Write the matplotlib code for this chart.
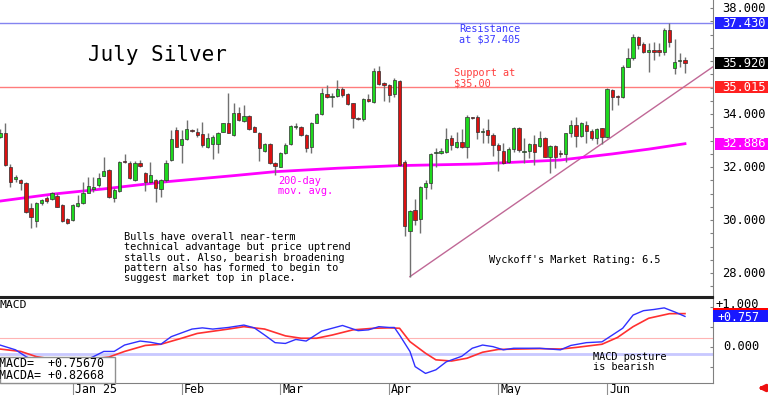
import numpy as np
import pandas as pd
import matplotlib
matplotlib.use('Agg')
import matplotlib.pyplot as plt
from matplotlib.patches import Rectangle, FancyArrowPatch
from matplotlib.transforms import blended_transform_factory, ScaledTranslation

# ---------------- data ----------------
opens = [33.15, 33.30, 32.02, 31.54, 31.52, 31.42, 30.45, 29.97, 30.66, 30.85,
         30.79, 30.91, 30.57, 30.03, 30.00, 30.55, 30.64, 31.04, 31.16, 31.33,
         31.68, 31.89, 30.82, 31.11, 32.25, 32.17, 31.52, 32.17, 31.79, 31.45,
         31.52, 31.16, 31.50, 32.27, 33.40, 32.84, 33.05, 33.40, 33.32, 33.25,
         32.75, 32.87, 32.87, 33.34, 33.66, 33.21, 34.06, 33.76, 33.93, 33.50,
         33.30, 32.62, 32.87, 32.14, 32.02, 32.52, 32.87, 33.52, 33.50, 33.21,
         32.75, 33.68, 34.01, 34.75, 34.64, 34.69, 34.94, 34.75, 34.41, 33.85,
         33.81, 34.56, 34.47, 35.63, 35.16, 35.10, 34.75, 35.27, 32.21, 29.60,
         30.38, 30.03, 31.26, 31.39, 32.52, 32.55, 32.59, 33.09, 32.77, 32.96,
         32.77, 33.88, 33.88, 33.34, 33.40, 33.21, 32.84, 32.62, 32.21, 32.67,
         33.47, 32.59, 32.61, 32.87, 32.80, 33.11, 32.37, 32.80, 32.55, 32.50,
         33.28, 33.59, 33.18, 33.59, 33.38, 33.09, 33.47, 33.13, 34.91, 34.69,
         34.64, 35.79, 36.11, 36.90, 36.65, 36.36, 36.42, 36.42, 36.36, 37.18,
         35.73, 36.02, 36.05]
highs = [33.45, 33.65, 32.12, 31.71, 31.56, 31.44, 30.64, 30.70, 30.79, 30.90,
         31.08, 31.01, 30.61, 30.07, 30.61, 30.95, 31.45, 31.64, 31.64, 31.79,
         32.40, 31.92, 31.20, 32.25, 32.50, 32.23, 32.23, 32.27, 31.83, 32.21,
         31.54, 31.54, 32.27, 33.40, 33.53, 33.40, 33.78, 33.45, 33.47, 33.72,
         33.30, 33.22, 33.34, 33.68, 34.81, 34.41, 34.26, 34.35, 33.97, 33.55,
         33.34, 32.90, 32.90, 32.21, 32.59, 32.90, 33.59, 33.65, 33.55, 33.24,
         33.72, 34.06, 34.98, 35.10, 34.79, 35.29, 35.01, 34.79, 34.43, 33.91,
         34.60, 34.75, 35.73, 35.82, 35.23, 35.14, 35.35, 35.29, 32.27, 30.38,
         30.79, 31.29, 31.52, 32.55, 32.71, 32.71, 33.47, 33.21, 33.34, 33.43,
         33.97, 33.90, 33.97, 33.47, 33.81, 33.30, 32.90, 32.90, 32.77, 33.50,
         33.50, 33.09, 32.93, 33.21, 33.38, 33.15, 32.84, 32.84, 32.65, 33.30,
         33.78, 33.91, 33.72, 33.75, 33.43, 33.47, 33.49, 34.98, 34.94, 34.72,
         35.86, 36.49, 37.03, 36.95, 36.74, 36.70, 36.74, 36.67, 37.24, 37.43,
         36.82, 36.30, 36.14]
lows = [33.09, 32.05, 31.26, 31.45, 31.14, 30.26, 29.69, 29.75, 30.57, 30.66,
        30.75, 30.49, 29.94, 29.86, 29.98, 30.51, 30.61, 31.01, 31.08, 31.26,
        31.67, 30.82, 30.70, 31.08, 32.15, 31.55, 31.49, 32.02, 31.11, 31.42,
        30.70, 30.89, 31.45, 32.25, 32.75, 32.14, 33.03, 33.33, 33.15, 32.77,
        32.71, 32.30, 32.52, 33.32, 33.28, 33.18, 33.76, 33.72, 33.40, 33.32,
        32.25, 32.58, 32.12, 31.71, 32.00, 32.50, 32.84, 33.43, 33.18, 32.58,
        32.52, 33.66, 33.97, 34.60, 34.26, 34.64, 34.66, 34.35, 33.47, 33.78,
        33.76, 34.47, 34.43, 35.10, 34.51, 34.47, 34.66, 32.06, 29.40, 27.87,
        29.82, 29.53, 30.79, 31.16, 32.02, 32.50, 32.55, 32.65, 32.71, 32.71,
        32.33, 33.82, 33.05, 32.90, 32.93, 32.42, 31.87, 32.12, 32.17, 32.58,
        32.58, 32.14, 32.33, 32.08, 32.75, 32.37, 31.79, 31.96, 32.37, 32.21,
        33.13, 32.77, 33.13, 32.90, 33.02, 32.87, 32.87, 33.09, 34.16, 34.35,
        34.60, 35.77, 36.05, 36.45, 36.30, 35.60, 36.05, 36.20, 36.23, 36.55,
        35.52, 35.79, 35.57]
closes = [33.30, 32.08, 31.45, 31.64, 31.42, 30.31, 30.12, 30.66, 30.76, 30.72,
          31.01, 30.51, 29.97, 29.88, 30.57, 30.64, 31.04, 31.29, 31.24, 31.60,
          31.86, 30.86, 31.14, 32.21, 32.18, 31.58, 32.17, 32.06, 31.45, 31.71,
          31.20, 31.50, 32.17, 33.06, 32.77, 33.05, 33.43, 33.37, 33.21, 32.84,
          33.11, 33.13, 33.30, 33.66, 33.30, 34.06, 33.78, 33.93, 33.43, 33.34,
          32.71, 32.87, 32.14, 32.05, 32.55, 32.82, 33.55, 33.55, 33.21, 32.71,
          33.68, 34.01, 34.81, 34.64, 34.70, 34.94, 34.72, 34.38, 33.84, 33.83,
          34.56, 34.50, 35.64, 35.14, 35.10, 34.72, 35.29, 32.08, 29.78, 30.36,
          30.01, 31.24, 31.39, 32.50, 32.59, 32.62, 33.05, 32.84, 32.96, 32.77,
          33.88, 33.84, 33.34, 33.38, 33.21, 32.84, 32.65, 32.17, 32.67, 33.47,
          32.65, 32.61, 32.87, 32.59, 33.09, 32.40, 32.80, 32.40, 32.50, 33.28,
          33.59, 33.18, 33.66, 33.38, 33.09, 33.43, 33.13, 34.94, 34.66, 34.66,
          35.79, 36.11, 36.90, 36.61, 36.36, 36.42, 36.36, 36.36, 37.18, 36.74,
          35.98, 36.05, 35.92]

holidays = ['2024-12-25', '2025-01-01', '2025-01-20', '2025-02-17',
            '2025-04-18', '2025-05-26', '2025-06-19']
dates = pd.bdate_range('2024-12-11', periods=len(closes), freq='C', holidays=holidays)
month_labels = ['Jan 25', 'Feb', 'Mar', 'Apr', 'May', 'Jun']

# 200-day moving average, read at sampled sessions
ma_idx = [0, 10, 20, 32, 45, 53, 65, 77, 92, 108, 118, 125, 132]
ma_vals = [30.72, 30.98, 31.18, 31.45, 31.68, 31.83, 31.96, 32.06, 32.12, 32.27, 32.50, 32.68, 32.886]

# uptrend line (from April low)
trend_idx = [79, 137.4]
trend_vals = [27.87, 35.79]

resistance = 37.43
support = 35.015
last_close = 35.92
ma_last = 32.886

# MACD (blue) and MACDA signal (red), read at sampled sessions
macd_idx = [0, 3, 5, 8, 12, 15, 18, 20, 22, 24, 27, 29, 31, 33, 37, 39, 41, 44, 47, 49,
            51, 53, 55, 57, 59, 62, 66, 69, 71, 73, 75, 76, 77, 79, 80, 82, 84, 86, 89,
            91, 93, 95, 97, 99, 104, 108, 110, 113, 116, 118, 120, 122, 124, 126, 128,
            130, 132]
macd_vals = [0.04, -0.08, -0.25, -0.42, -0.50, -0.42, -0.25, -0.12, -0.12, 0.04, 0.14,
             0.11, 0.06, 0.25, 0.44, 0.47, 0.44, 0.48, 0.54, 0.47, 0.29, 0.10, 0.08,
             0.18, 0.14, 0.39, 0.53, 0.40, 0.42, 0.50, 0.48, 0.48, 0.29, -0.12, -0.50,
             -0.67, -0.58, -0.38, -0.24, -0.04, 0.04, 0.00, -0.08, -0.04, -0.04, -0.08,
             0.03, 0.10, 0.12, 0.29, 0.46, 0.79, 0.90, 0.93, 0.97, 0.87, 0.7567]
sig_idx = [0, 4, 7, 12, 16, 21, 24, 28, 31, 35, 38, 44, 47, 51, 55, 58, 61, 64, 68, 72,
           75, 77, 79, 82, 84, 87, 90, 93, 96, 100, 104, 108, 111, 116, 119, 122, 125,
           129, 132]
sig_vals = [-0.06, -0.12, -0.25, -0.35, -0.33, -0.26, -0.12, 0.03, 0.06, 0.21, 0.33,
            0.44, 0.50, 0.44, 0.27, 0.21, 0.21, 0.29, 0.42, 0.46, 0.47, 0.46, 0.125,
            -0.165, -0.33, -0.36, -0.29, -0.14, -0.07, -0.06, -0.05, -0.06, -0.02,
            0.06, 0.23, 0.50, 0.71, 0.825, 0.8267]
macd_upper_ref = 0.21
macd_lower_ref = -0.18
macd_text = ['MACD=  +0.75670', 'MACDA= +0.82668']

# ---------------- figure ----------------
W, H = 768, 395
plt.rcParams['font.family'] = ['DejaVu Sans Mono', 'DejaVu Sans']
fig = plt.figure(figsize=(W / 100, H / 100), dpi=100)
fig.patch.set_facecolor('white')

ax = fig.add_axes([0, 1 - 297 / H, 713 / W, 297 / H])
ax2 = fig.add_axes([0, 1 - 383 / H, 713 / W, (383 - 297.5) / H])

x = np.arange(len(closes))
o = np.array(opens); c = np.array(closes)
hi = np.array(highs); lo = np.array(lows)
up = c >= o
bb = np.minimum(o, c)
bh = np.maximum(np.abs(c - o), 0.035)

ax.axhline(resistance, color='#8484f0', lw=1, zorder=1)
ax.axhline(support, color='#ff7c7c', lw=1, zorder=1)
ax.plot(trend_idx, trend_vals, color='#c06896', lw=1, zorder=2)
ax.plot(ma_idx, ma_vals, color='#ff00ff', lw=2, zorder=2)
ax.vlines(x, lo, hi, color='#707070', lw=1, zorder=3)
ax.bar(x[up], bh[up], bottom=bb[up], width=0.64, color='#1ed81e',
       edgecolor='#303030', lw=0.5, zorder=4)
ax.bar(x[~up], bh[~up], bottom=bb[~up], width=0.64, color='#dd1010',
       edgecolor='#303030', lw=0.5, zorder=4)

ax.set_xlim(0, 137.4)
ax.set_ylim(27.10, 38.31)
for s in ['top', 'left']:
    ax.spines[s].set_visible(False)
ax.spines['right'].set_color('#808080')
ax.spines['bottom'].set_color('#202020')
ax.spines['bottom'].set_linewidth(1.5)
ax.set_xticks([])
ax.yaxis.tick_right()
ax.set_yticks(np.arange(27.5, 38.01, 0.5))
ax.tick_params(axis='y', direction='in', length=2.5, color='#808080', labelright=False)

bt = blended_transform_factory(fig.transFigure, ax.transData)
for v in [28, 30, 32, 34, 38]:
    ax.text(766 / W, v, f'{v:.3f}', transform=bt, ha='right', va='center',
            fontsize=8.7, color='black', clip_on=False)
box_vals = [resistance, last_close, support, ma_last]
box_cols = ['#2020ff', '#000000', '#ff2020', '#ff00ff']
for v, col in zip(box_vals, box_cols):
    ax.add_patch(Rectangle((715 / W, v - 0.23), 53 / W, 0.46, transform=bt,
                           facecolor=col, edgecolor='none', clip_on=False, zorder=5))
    ax.text(766 / W, v, f'{v:.3f}', transform=bt, ha='right', va='center',
            fontsize=8.7, color='white', clip_on=False, zorder=6)

# ---------------- MACD panel ----------------
ax2.axhline(macd_upper_ref, color='#ffb4b4', lw=0.8, zorder=1)
ax2.axhline(macd_lower_ref, color='#c8c8ff', lw=2, zorder=1)
ax2.plot(macd_idx, macd_vals, color='#3030ff', lw=1, zorder=3)
ax2.plot(sig_idx, sig_vals, color='#ff3030', lw=1.2, zorder=2)
ax2.set_xlim(0, 137.4)
ax2.set_ylim(-0.91, 1.23)
ax2.spines['left'].set_visible(False)
ax2.spines['top'].set_color('#202020')
ax2.spines['top'].set_linewidth(1.5)
ax2.spines['right'].set_color('#808080')
ax2.spines['bottom'].set_color('#808080')
ax2.yaxis.tick_right()
ax2.set_yticks([-0.5, 0, 0.5, 1.0])
ax2.tick_params(axis='y', direction='in', length=2.5, color='#808080', labelright=False)

month_pos = [i for i in range(1, len(dates)) if dates[i].month != dates[i - 1].month]
ax2.set_xticks(month_pos)
ax2.tick_params(axis='x', direction='out', length=8.7, color='#909090', labelbottom=False)
lt = blended_transform_factory(ax2.transData, fig.transFigure) + \
    ScaledTranslation(2 / 100, 0, fig.dpi_scale_trans)
for p, lab in zip(month_pos, month_labels):
    ax2.text(p, 1 - 389.5 / H, lab, transform=lt, ha='left', va='center',
             fontsize=8.4, clip_on=False)

bt2 = blended_transform_factory(fig.transFigure, ax2.transData)
ax2.text(759 / W, 1 - 304 / H, '+1.000', transform=blended_transform_factory(fig.transFigure, fig.transFigure),
         ha='right', va='center', fontsize=8.7, clip_on=False)
ax2.text(759 / W, 0.0, '0.000', transform=bt2, ha='right', va='center',
         fontsize=8.7, clip_on=False)
ax2.add_patch(Rectangle((713 / W, sig_vals[-1] - 0.15), 55 / W, 0.30, transform=bt2,
                        facecolor='#ff0000', edgecolor='none', clip_on=False, zorder=5))
ax2.add_patch(Rectangle((713 / W, macd_vals[-1] - 0.15), 55 / W, 0.30, transform=bt2,
                        facecolor='#1818ff', edgecolor='none', clip_on=False, zorder=6))
ax2.text(759 / W, macd_vals[-1] - 0.02, f'+{macd_vals[-1]:.3f}', transform=bt2, ha='right',
         va='center', fontsize=8.4, color='white', clip_on=False, zorder=7)


# ---------------- annotations ----------------
def ftext(px, py, s, **kw):
    kw.setdefault('fontsize', 7.4)
    fig.text(px / W, 1 - py / H, s, ha='left', va='center', **kw)


ftext(88, 55, 'July Silver', fontsize=15)
ftext(459, 29.5, 'Resistance', color='#3a3aff')
ftext(459, 39.5, 'at $37.405', color='#3a3aff')
ftext(454, 73, 'Support at', color='#ff4040')
ftext(454, 83, '$35.00', color='#ff4040')
ftext(278, 181, '200-day', color='#ff00ff')
ftext(278, 191.5, 'mov. avg.', color='#ff00ff')
bulls = ['Bulls have overall near-term',
         'technical advantage but price uptrend',
         'stalls out. Also, bearish broadening',
         'pattern also has formed to begin to',
         'suggest market top in place.']
for i, line in enumerate(bulls):
    ftext(124, 237 + i * 10.3, line)
ftext(489, 260, "Wyckoff's Market Rating: 6.5")
ftext(0, 305, 'MACD', fontsize=8.2)
ftext(593, 357.5, 'MACD posture')
ftext(593, 367, 'is bearish')

fig.add_artist(Rectangle((0, 1 - 383 / H), 115 / W, 26.5 / H, transform=fig.transFigure,
                         facecolor='white', edgecolor='#909090', lw=1, zorder=10))
fig.text(-1 / W, 1 - 369.5 / H, '\n'.join(macd_text), ha='left', va='center',
         fontsize=8.4, linespacing=0.88, zorder=11)

fig.add_artist(FancyArrowPatch((767 / W, 1 - 388 / H), (755 / W, 1 - 388 / H),
                               transform=fig.transFigure, arrowstyle='-|>',
                               mutation_scale=9, color='#ee1010', lw=2.5))

fig.savefig('out.png', dpi=100)
